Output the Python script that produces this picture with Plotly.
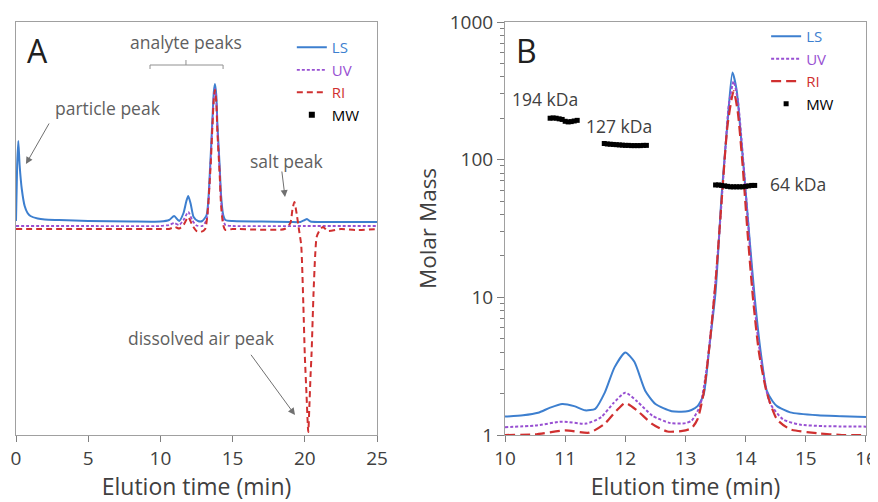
import math
import plotly.graph_objects as go

# ---------------- Panel A data (arbitrary detector response) ----------------
a_ls_x = [0, 0.08, 0.16, 0.25, 0.4, 0.6, 0.8, 1.0, 1.5, 2, 3, 5, 8, 10, 10.6, 10.95, 11.3, 11.6, 11.8,
          11.93, 12.1, 12.3, 12.6, 12.9, 13.2, 13.45, 13.6, 13.7, 13.78, 13.87, 13.95, 14.1, 14.2, 14.35,
          14.5, 15, 17, 19, 19.7, 20.0, 20.15, 20.4, 21, 23, 25]
a_ls_y = [2.14, 2.7, 2.94, 2.7, 2.46, 2.29, 2.22, 2.19, 2.165, 2.155, 2.15, 2.14, 2.135, 2.135, 2.15, 2.19,
          2.14, 2.22, 2.34, 2.39, 2.31, 2.18, 2.14, 2.14, 2.2, 2.7, 3.15, 3.43, 3.51, 3.4, 3.1, 2.7, 2.4,
          2.2, 2.15, 2.14, 2.135, 2.13, 2.13, 2.15, 2.16, 2.135, 2.13, 2.13, 2.13]

a_uv_x = [0, 5, 10, 10.6, 10.95, 11.3, 11.6, 11.93, 12.2, 12.5, 12.9, 13.2, 13.45, 13.6, 13.7, 13.78,
          13.87, 13.95, 14.1, 14.2, 14.35, 14.5, 15, 20, 25]
a_uv_y = [2.09, 2.09, 2.09, 2.10, 2.12, 2.10, 2.15, 2.23, 2.15, 2.095, 2.09, 2.15, 2.65, 3.1, 3.38, 3.46,
          3.35, 3.05, 2.65, 2.35, 2.15, 2.1, 2.09, 2.09, 2.09]

a_ri_x = [0, 5, 10, 10.6, 11.0, 11.3, 11.6, 11.93, 12.2, 12.5, 12.8, 13.1, 13.45, 13.6, 13.7, 13.78,
          13.87, 13.95, 14.1, 14.2, 14.35, 14.5, 15, 18.6, 19.0, 19.15, 19.28, 19.45, 19.6, 19.75, 19.9,
          20.0, 20.12, 20.24, 20.32, 20.4, 20.47, 20.6, 20.72, 20.82, 21.0, 21.25, 21.6, 22.5, 23.5, 25]
a_ri_y = [2.06, 2.06, 2.06, 2.06, 2.08, 2.065, 2.1, 2.18, 2.1, 2.04, 2.03, 2.06, 2.62, 3.08, 3.36, 3.45,
          3.33, 3.02, 2.62, 2.3, 2.1, 2.05, 2.06, 2.06, 2.12, 2.26, 2.33, 2.2, 2.05, 1.9, 1.3,
          0.8, 0.4, 0.03, 0.3, 0.6, 0.82, 1.4, 1.8, 1.98, 2.04, 2.08, 2.04, 2.06, 2.05, 2.06]

# ---------------- Panel B data (molar mass, kDa / scaled signals) ----------------
b_ls_x = [10.0, 10.3, 10.55, 10.75, 10.95, 11.15, 11.33, 11.5, 11.66, 11.82, 12.0, 12.15, 12.33, 12.5,
          12.77, 13.0, 13.1, 13.2, 13.3, 13.4, 13.5, 13.6, 13.7, 13.78, 13.85, 13.92, 13.99, 14.07, 14.15,
          14.25, 14.35, 14.45, 14.52, 14.74, 15.2, 15.6, 16.0]
b_ls_y = [1.36, 1.39, 1.45, 1.58, 1.68, 1.62, 1.51, 1.55, 2.04, 3.1, 3.98, 3.4, 2.1, 1.68,
          1.49, 1.48, 1.52, 1.62, 1.95, 4.5, 11, 55, 190, 430, 320, 150, 66, 25, 10,
          4, 2.1, 1.75, 1.62, 1.46, 1.39, 1.37, 1.35]

b_uv_x = [10.0, 10.5, 10.95, 11.35, 11.6, 11.8, 12.0, 12.2, 12.45, 12.75, 13.0, 13.1, 13.24, 13.35,
          13.45, 13.55, 13.65, 13.72, 13.8, 13.87, 13.95, 14.03, 14.12, 14.22, 14.4, 14.62, 14.9,
          15.3, 16.0]
b_uv_y = [1.14, 1.17, 1.25, 1.21, 1.35, 1.7, 2.03, 1.75, 1.38, 1.22, 1.22, 1.27, 1.62, 3.0,
          7.5, 25, 100, 250, 370, 270, 110, 40, 12, 4.5, 1.72, 1.3, 1.19, 1.16, 1.15]

b_ri_x = [10.0, 10.5, 11.0, 11.4, 11.65, 11.85, 12.0, 12.2, 12.45, 12.7, 12.95, 13.1, 13.2, 13.3,
          13.4, 13.5, 13.6, 13.7, 13.8, 13.87, 13.95, 14.03, 14.12, 14.22, 14.35, 14.52, 14.74,
          15.2, 15.6, 16.0]
b_ri_y = [1.0, 1.01, 1.08, 1.04, 1.2, 1.5, 1.71, 1.5, 1.2, 1.06, 1.07, 1.12, 1.3, 2.0,
          4.5, 13, 50, 180, 315, 220, 90, 30, 10, 4, 2.04, 1.3, 1.1,
          1.03, 1.0, 1.0]

mw_x = [10.75, 10.80, 10.85, 10.90, 10.95, 11.00, 11.05, 11.10, 11.15, 11.20,
        11.65, 11.70, 11.75, 11.80, 11.85, 11.90, 11.95, 12.00, 12.05, 12.10, 12.15, 12.20, 12.25,
        12.30, 12.35,
        13.50, 13.55, 13.60, 13.65, 13.70, 13.75, 13.80, 13.85, 13.90, 13.95, 14.00, 14.05, 14.10,
        14.15]
mw_y = [200, 201, 200, 198, 196, 190, 188, 189, 191, 193,
        131, 130, 129.5, 129, 128.5, 128, 127.5, 127, 127, 126.5, 126.5, 126.5, 126.5,
        127, 127,
        65.5, 65.5, 65, 64.5, 64, 63.5, 63.5, 63.5, 63.5, 63.5, 64, 64.5, 65,
        65]

mw_labels = ["194 kDa", "127 kDa", "64 kDa"]
mw_label_x = [10.66, 11.90, 14.87]
mw_label_y = [274, 177, 67]

a_ticks = [0, 5, 10, 15, 20, 25]
b_xticks = [10, 11, 12, 13, 14, 15, 16]
b_yticks = [1, 10, 100, 1000]
b_yticktext = ["1", "10", "100", "1000"]

# ---------------- style ----------------
FONT = "Open Sans"
C_LS = "#3d7fcf"
C_UV = "#9850d2"
C_RI = "#d03030"
C_TXT = "#404040"
C_ANN = "#606060"
C_AX = "#a0a0a0"

def nm(label, color):
    return f'<span style="color:{color}">{label}</span>'

fig = go.Figure()

# Panel A
fig.add_trace(go.Scatter(x=a_ls_x, y=a_ls_y, mode="lines", name=nm("LS", C_LS),
                         line=dict(color=C_LS, width=2, shape="spline", smoothing=0.6),
                         xaxis="x", yaxis="y", legend="legend"))
fig.add_trace(go.Scatter(x=a_uv_x, y=a_uv_y, mode="lines", name=nm("UV", C_UV),
                         line=dict(color=C_UV, width=1.8, dash="3px,2px", shape="spline", smoothing=0.6),
                         xaxis="x", yaxis="y", legend="legend"))
fig.add_trace(go.Scatter(x=a_ri_x, y=a_ri_y, mode="lines", name=nm("RI", C_RI),
                         line=dict(color=C_RI, width=2, dash="6px,4px", shape="spline", smoothing=0.6),
                         xaxis="x", yaxis="y", legend="legend"))
fig.add_trace(go.Scatter(x=[None], y=[None], mode="markers", name=nm("MW", "#000000"),
                         marker=dict(symbol="square", size=6, color="black"),
                         xaxis="x", yaxis="y", legend="legend"))

# Panel B
fig.add_trace(go.Scatter(x=b_ls_x, y=b_ls_y, mode="lines", name=nm("LS", C_LS),
                         line=dict(color=C_LS, width=2, shape="spline", smoothing=0.6),
                         xaxis="x2", yaxis="y2", legend="legend2"))
fig.add_trace(go.Scatter(x=b_uv_x, y=b_uv_y, mode="lines", name=nm("UV", C_UV),
                         line=dict(color=C_UV, width=2, dash="3px,2px", shape="spline", smoothing=0.6),
                         xaxis="x2", yaxis="y2", legend="legend2"))
fig.add_trace(go.Scatter(x=b_ri_x, y=b_ri_y, mode="lines", name=nm("RI", C_RI),
                         line=dict(color=C_RI, width=2.2, dash="10px,5px", shape="spline", smoothing=0.6),
                         xaxis="x2", yaxis="y2", legend="legend2"))
fig.add_trace(go.Scatter(x=mw_x, y=mw_y, mode="markers", name=nm("MW", "#000000"),
                         marker=dict(symbol="square", size=5, color="black", line=dict(width=0)),
                         xaxis="x2", yaxis="y2", legend="legend2"))

ann = []
def txt(x, y, s, xref="x", yref="y", size=17.5, color=C_ANN):
    ann.append(dict(x=x, y=y, xref=xref, yref=yref, text=s, showarrow=False,
                    font=dict(family=FONT, size=size, color=color), xanchor="center", yanchor="middle"))

def arrow(xh, yh, xt, yt):
    ann.append(dict(x=xh, y=yh, ax=xt, ay=yt, xref="x", yref="y", axref="x", ayref="y", text="",
                    showarrow=True, arrowhead=2, arrowsize=1.4, arrowwidth=1, arrowcolor="#707070"))

txt(1.52, 3.85, "A", size=32, color="#202020")
txt(11.77, 3.93, "analyte peaks")
txt(6.37, 3.27, "particle peak")
txt(18.8, 2.74, "salt peak")
txt(12.88, 0.97, "dissolved air peak")
arrow(0.69, 2.71, 2.35, 3.13)
arrow(18.63, 2.38, 18.4, 2.65)
arrow(19.32, 0.2, 16.2, 0.817)

txt(10.357, math.log10(617), "B", xref="x2", yref="y2", size=32, color="#202020")
for s, lx, ly in zip(mw_labels, mw_label_x, mw_label_y):
    txt(lx, math.log10(ly), s, xref="x2", yref="y2", size=17.5, color=C_TXT)

shapes = []
brk = dict(type="line", xref="x", yref="y", line=dict(color="#909090", width=1))
shapes.append({**brk, "x0": 9.28, "x1": 14.34, "y0": 3.70, "y1": 3.70})
shapes.append({**brk, "x0": 9.28, "x1": 9.28, "y0": 3.70, "y1": 3.66})
shapes.append({**brk, "x0": 14.34, "x1": 14.34, "y0": 3.70, "y1": 3.66})
shapes.append({**brk, "x0": 11.77, "x1": 11.77, "y0": 3.70, "y1": 3.75})

axis_common = dict(showline=True, mirror=True, linecolor=C_AX, linewidth=1, showgrid=False,
                   zeroline=False, tickfont=dict(family=FONT, size=19, color=C_TXT),
                   tickcolor="#808080", automargin=False)

fig.update_layout(
    width=878, height=494,
    margin=dict(l=8, r=20, t=14, b=67, autoexpand=False),
    paper_bgcolor="white", plot_bgcolor="white",
    font=dict(family=FONT, color=C_TXT),
    xaxis=dict(domain=[0, 0.4247], range=[0, 25], tickvals=a_ticks, ticks="outside", ticklen=6,
               title=dict(text="Elution time (min)", font=dict(family=FONT, size=23, color=C_TXT), standoff=2),
               anchor="y", **axis_common),
    yaxis=dict(domain=[0, 1], range=[0, 4.13], showticklabels=False, ticks="", anchor="x", **axis_common),
    xaxis2=dict(domain=[0.5753, 1], range=[10, 16], tickvals=b_xticks, ticks="outside", ticklen=6,
                title=dict(text="Elution time (min)", font=dict(family=FONT, size=23, color=C_TXT), standoff=2),
                anchor="y2", **axis_common),
    yaxis2=dict(domain=[0, 1], type="log", range=[0, 3], tickvals=b_yticks, ticktext=b_yticktext,
                ticks="outside", ticklen=7,
                minor=dict(ticks="outside", ticklen=4, tickcolor="#808080",
                           tickvals=[d * 10 ** e for e in range(3) for d in range(2, 10)]),
                title=dict(text="Molar Mass", font=dict(family=FONT, size=22.5, color=C_TXT), standoff=6),
                anchor="x2", **axis_common),
    legend=dict(x=0.3245, y=0.978, xanchor="left", yanchor="top", bgcolor="rgba(0,0,0,0)",
                font=dict(family=FONT, size=15), itemwidth=30, tracegroupgap=0),
    legend2=dict(x=0.8825, y=1.005, xanchor="left", yanchor="top", bgcolor="rgba(0,0,0,0)",
                 font=dict(family=FONT, size=15), itemwidth=30, tracegroupgap=0),
    annotations=ann,
    shapes=shapes,
)

fig.write_html("out.html")
